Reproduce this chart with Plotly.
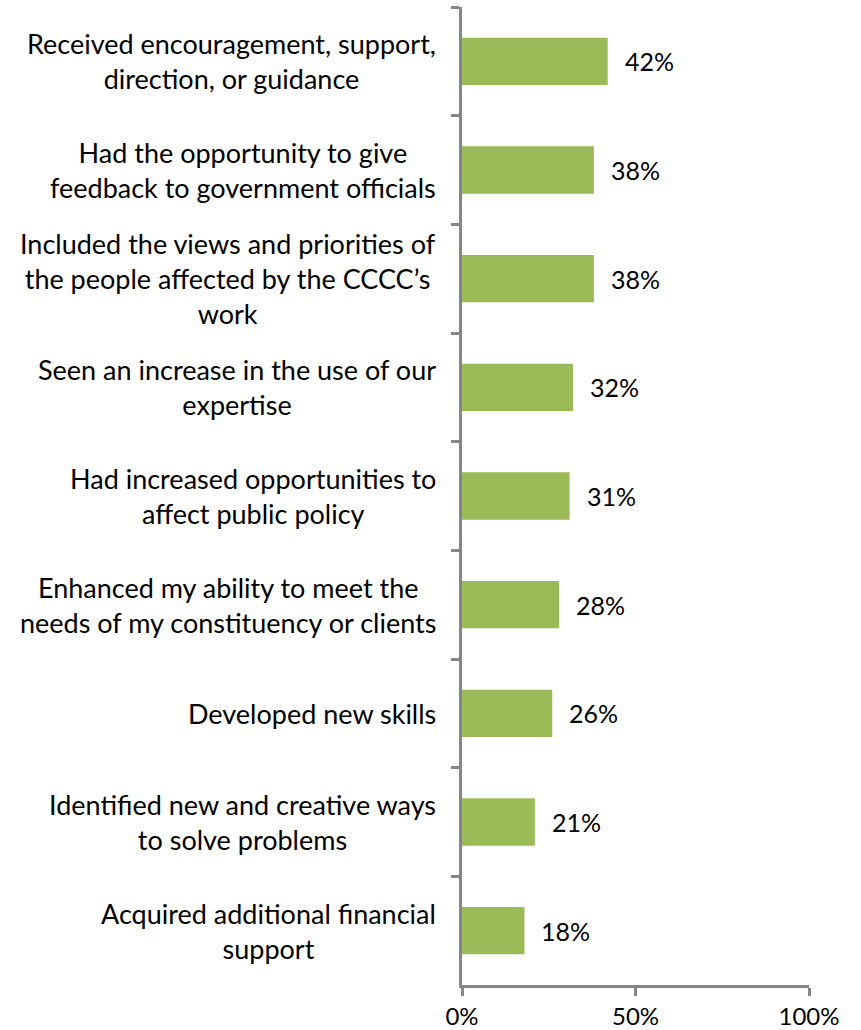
import plotly.graph_objects as go

categories = [
    "Received encouragement, support,<br>direction, or guidance",
    "Had the opportunity to give<br>feedback to government officials",
    "Included the views and priorities of<br>the people affected by the CCCC’s<br>work",
    "Seen an increase in the use of our<br>expertise",
    "Had increased opportunities to<br>affect public policy",
    "Enhanced my ability to meet the<br>needs of my constituency or clients",
    "Developed new skills",
    "Identified new and creative ways<br>to solve problems",
    "Acquired additional financial<br>support",
]
values = [42, 38, 38, 32, 31, 28, 26, 21, 18]
x_ticks = [0, 50, 100]

FONT = "Lato, Carlito, Calibri, 'Open Sans', sans-serif"
AXIS_COLOR = "#868686"
BAR_COLOR = "#9BBB59"

fig = go.Figure(
    go.Bar(
        x=values,
        y=categories,
        orientation="h",
        marker=dict(color=BAR_COLOR, line=dict(width=0)),
        hoverinfo="skip",
    )
)

annotations = []
# category labels: right-aligned block, centered lines
for cat in categories:
    annotations.append(dict(
        xref="paper", yref="y", x=0, y=cat,
        text=cat, showarrow=False,
        xanchor="right", yanchor="middle", align="center",
        xshift=-24,
        font=dict(family=FONT, size=27, color="#000000"),
    ))
# value labels at the end of each bar
for cat, v in zip(categories, values):
    annotations.append(dict(
        xref="x", yref="y", x=v, y=cat,
        text=f"{v}%", showarrow=False,
        xanchor="left", yanchor="middle",
        xshift=15,
        font=dict(family=FONT, size=25, color="#000000"),
    ))

fig.update_layout(
    width=861, height=1030,
    margin=dict(l=462, r=52, t=7, b=45),
    paper_bgcolor="white", plot_bgcolor="white",
    showlegend=False,
    bargap=0.565,
    annotations=annotations,
    font=dict(family=FONT, size=25, color="#000000"),
    xaxis=dict(
        range=[0, 100],
        tickvals=x_ticks,
        ticktext=[f"{t}%" for t in x_ticks],
        showgrid=False, zeroline=False,
        showline=True, linecolor=AXIS_COLOR, linewidth=3,
        ticks="outside", ticklen=8, tickwidth=3, tickcolor=AXIS_COLOR,
        tickfont=dict(family=FONT, size=24, color="#000000"),
        automargin=False,
        fixedrange=True,
    ),
    yaxis=dict(
        type="category",
        categoryorder="array", categoryarray=categories,
        autorange="reversed",
        range=[8.5, -0.5],
        showticklabels=False,
        showgrid=False, zeroline=False,
        showline=True, linecolor=AXIS_COLOR, linewidth=3,
        ticks="outside", ticklen=8, tickwidth=3, tickcolor=AXIS_COLOR,
        tickson="boundaries",
        automargin=False,
        fixedrange=True,
    ),
)

fig.write_html("out.html", config={"displayModeBar": False})
